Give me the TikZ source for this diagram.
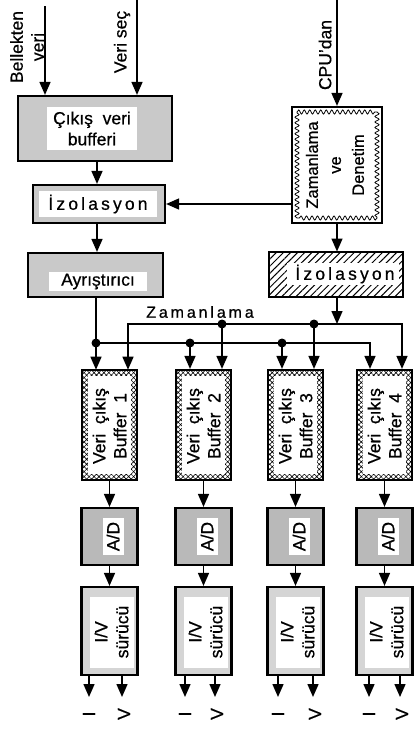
\documentclass[tikz,border=0pt]{standalone}
\usepackage{fontspec}
\setmainfont[FakeBold=0.6]{Liberation Sans}
\newfontfamily\spaced[LetterSpace=18,FakeBold=0.6]{Liberation Sans}
\usetikzlibrary{arrows.meta,patterns,patterns.meta,decorations.pathmorphing,calc}
\begin{document}
\begin{tikzpicture}[x=1pt,y=-1pt,
  conn/.style={line width=1.5pt},
  arr/.style={conn,-{Triangle[width=11pt,length=13pt]}},
  arrtwo/.style={conn,{Triangle[width=11pt,length=13pt]}-{Triangle[width=11pt,length=13pt]}},
  outerbox/.style={draw, line width=2.2pt, inner sep=0pt},
  graybox/.style={outerbox, fill=gray!42},
  darkbox/.style={outerbox, fill=gray!55},
  lightbox/.style={outerbox, fill=gray!33},
  xbox/.style={outerbox, pattern={Hatch[angle=45,distance=3.5pt,line width=0.6pt]}},
  hatchbox/.style={outerbox, pattern={Lines[angle=45,distance=5pt,line width=1pt]}},
  whitein/.style={fill=white, inner sep=0pt},
  txt/.style={font=\fontsize{17.5}{21}\selectfont, align=center, inner sep=0pt},
  wave/.style={line width=0.8pt, decorate, decoration={snake, amplitude=2pt, segment length=5.5pt}},
  dot/.style={fill=black}
]
\useasboundingbox (0,0) rectangle (413,734);

% ---- top section ----
\node[graybox, minimum width=154pt, minimum height=65pt] (cvb) at (95,128.5) {};
\node[whitein, txt, minimum width=90pt, minimum height=43pt] (cvbi) at (92,128.5) {Çıkış\ \ veri\\bufferi};

\node[graybox, minimum width=132pt, minimum height=38pt] (izo1) at (99,204) {};
\node[whitein, txt, minimum width=118pt, minimum height=26pt] (izo1i) at (98,204) {\spaced İzolasyon};

\node[graybox, minimum width=135pt, minimum height=44pt] (ayr) at (95.5,275) {};
\node[whitein, txt, minimum width=98pt, minimum height=19pt] (ayri) at (98,281.5) {Ayrıştırıcı};

\node[outerbox, minimum width=90pt, minimum height=116pt] (zd) at (337,165) {};
\draw[wave] (297,112) -- (377,112);
\draw[wave] (377,112) -- (377,218);
\draw[wave] (377,218) -- (297,218);
\draw[wave] (297,218) -- (297,112);
\node[whitein, minimum width=72pt, minimum height=98pt] (zdi) at (337,165) {};
\node[txt, font=\fontsize{16.5}{21}\selectfont, rotate=90] (zdt) at (335,165) {Zamanlama\\[2pt]ve\\[2pt]Denetim};

\node[hatchbox, minimum width=134pt, minimum height=45pt] (izo2) at (336,274.5) {};
\node[whitein, minimum width=112pt, minimum height=22pt] (izo2i) at (343,274) {};
\node[txt] (izo2t) at (345,274) {\spaced İzolasyon};

% top inputs
\coordinate (top1) at (45,6);
\coordinate (top2) at (137,0);
\coordinate (top3) at (337,0);
\draw[arr] (top1) -- (cvb.north -| top1);
\draw[arr] (top2) -- (cvb.north -| top2);
\draw[arr] (top3) -- (zd.north);
\node[txt, rotate=90] (lbl1) at (27,47) {Bellekten\\veri};
\node[txt, rotate=90] (lbl2) at (122,42) {Veri seç};
\node[txt, rotate=90] (lbl3) at (325,55) {CPU'dan};

\coordinate (spine) at (97,0);
\draw[arr] (cvb.south -| spine) -- (izo1.north -| spine);
\draw[arr] (izo1.south -| spine) -- (ayr.north -| spine);
\draw[arr] (zd.west |- izo1.east) -- (izo1.east);
\draw[arr] (zd.south) -- (izo2.north -| zd.south);

% ---- buses ----
\coordinate (busin) at (337,324);
\draw[arr] (izo2.south -| busin) -- (busin);
\node[font=\fontsize{16}{18}\selectfont\spaced, inner sep=0pt] (zlab) at (200,312) {Zamanlama};

\foreach \i/\cx/\l/\r/\o/\v in {1/109.5/96/128/89/122, 2/203.5/190/222/185/215, 3/295.5/282/314/278/313, 4/384.5/370/402/369/400}{
  \node[xbox, minimum width=55pt, minimum height=110pt] (buf\i) at (\cx,425) {};
  \node[whitein, minimum width=43pt, minimum height=98pt] (bufi\i) at (\cx,425) {};
  \node[txt, rotate=90] (buft\i) at (\cx,426) {Veri\ \ çıkış\\Buffer\ \ \i};
  \node[darkbox, minimum width=56pt, minimum height=57pt] (ad\i) at (\cx,536.5) {};
  \node[whitein, minimum width=21pt, minimum height=37pt] (adi\i) at (\cx+3.5,536.5) {};
  \node[txt, rotate=90] (adt\i) at (\cx+3.5,536.5) {A/D};
  \node[lightbox, minimum width=56pt, minimum height=88pt] (iv\i) at (\cx,631) {};
  \node[whitein, minimum width=44pt, minimum height=71pt] (ivi\i) at (\cx+2,632.5) {};
  \node[txt, rotate=90] (ivt\i) at (\cx+2,632) {I/V\\sürücü};
  \draw[arr] (buf\i.south) -- (ad\i.north);
  \draw[arr] (ad\i.south) -- (iv\i.north);
  \coordinate (oI\i) at (\o,697);
  \coordinate (oV\i) at (\v,697);
  \draw[arr] (iv\i.south -| oI\i) -- (oI\i);
  \draw[arr] (iv\i.south -| oV\i) -- (oV\i);
  \node[txt, rotate=90] (lI\i) at (\o,714) {I};
  \node[txt, rotate=90] (lV\i) at (\v+2,714) {V};
  \coordinate (inL\i) at (\l,343);
  \coordinate (inR\i) at (\r,324);
}
% lower bus
\draw[arr] (ayr.south -| inL1) -- (inL1) -- (inL4) -- (buf4.north -| inL4);
\foreach \i in {1,2,3}{
  \draw[arr] (inL\i) -- (buf\i.north -| inL\i);
}
% upper bus
\draw[arrtwo] (buf1.north -| inR1) -- (inR1) -- (inR4) -- (buf4.north -| inR4);
\foreach \i in {2,3}{
  \draw[arr] (inR\i) -- (buf\i.north -| inR\i);
}
\foreach \p in {inL1,inL2,inL3,inR2,inR3}{
  \fill[dot] (\p) circle (4.5pt);
}
\end{tikzpicture}
\end{document}
